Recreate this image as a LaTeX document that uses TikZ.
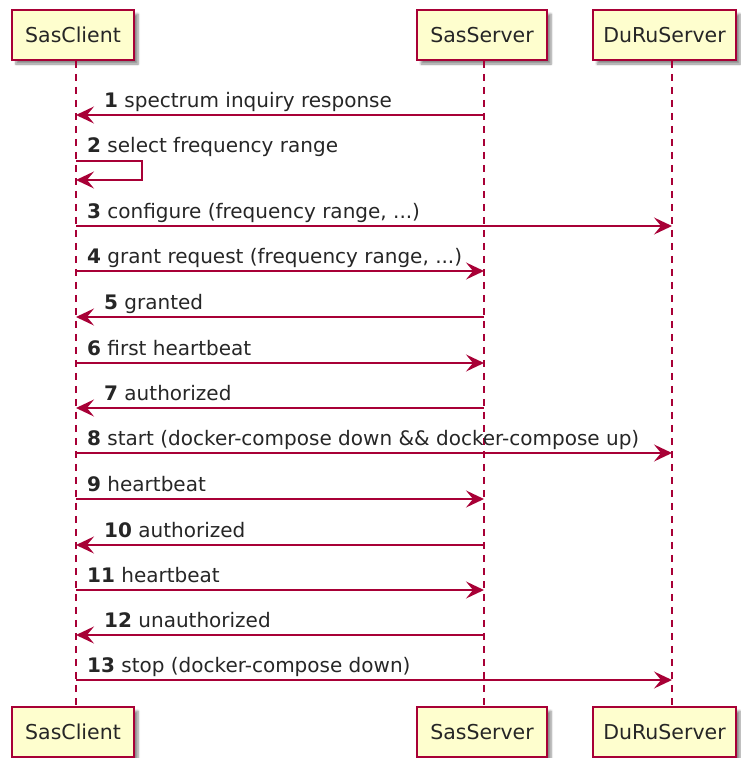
\documentclass[tikz,border=0pt]{standalone}
\usepackage{fontspec}
\setmainfont{DejaVu Sans}
\usetikzlibrary{arrows.meta,shadows.blur}
\definecolor{umlred}{HTML}{A80036}
\definecolor{umlfill}{HTML}{FEFECE}
\begin{document}
\begin{tikzpicture}[x=1pt,y=-1pt,
  actor/.style={draw=umlred, line width=1.5pt, fill=umlfill, minimum height=50pt,
    inner sep=0pt, text=black!85, font=\fontsize{20.5}{24}\selectfont,
    blur shadow={shadow xshift=4pt, shadow yshift=-4pt, shadow blur steps=6, shadow opacity=45}},
  lifeline/.style={draw=umlred, line width=1.3pt, dash pattern=on 7pt off 6pt},
  msg/.style={draw=umlred, line width=1.4pt, -{Stealth[length=18pt,width=17pt,inset=7pt]}},
  lbl/.style={anchor=base west, inner sep=0pt, text=black!85, font=\fontsize{20}{23}\selectfont}]
\useasboundingbox (0,0) rectangle (741,758);

% participants, head and foot
\node[actor, minimum width=122pt] (tc) at (73,35) {SasClient};
\node[actor, minimum width=130pt] (ts) at (482,35) {SasServer};
\node[actor, minimum width=143pt] (td) at (664.5,35) {DuRuServer};
\node[actor, minimum width=122pt] (bc) at (73,732) {SasClient};
\node[actor, minimum width=130pt] (bs) at (482,732) {SasServer};
\node[actor, minimum width=143pt] (bd) at (664.5,732) {DuRuServer};

% lifelines
\coordinate (C) at (76,0);
\coordinate (S) at (484,0);
\coordinate (D) at (672,0);
\draw[lifeline] (C |- tc.south) -- (C |- bc.north);
\draw[lifeline] (S |- ts.south) -- (S |- bs.north);
\draw[lifeline] (D |- td.south) -- (D |- bd.north);

% messages
\draw[msg] (S |- 0,115) -- (C |- 0,115);
\node[lbl] at (104,107) {\textbf{1} spectrum inquiry response};

\draw[msg] (C |- 0,161) -- (142,161) -- (142,180) -- (C |- 0,180);
\node[lbl] at (87,152) {\textbf{2} select frequency range};

\draw[msg] (C |- 0,226) -- (D |- 0,226);
\node[lbl] at (87,218) {\textbf{3} configure (frequency range, ...)};

\draw[msg] (C |- 0,271) -- (S |- 0,271);
\node[lbl] at (87,263) {\textbf{4} grant request (frequency range, ...)};

\draw[msg] (S |- 0,317) -- (C |- 0,317);
\node[lbl] at (104,309) {\textbf{5} granted};

\draw[msg] (C |- 0,363) -- (S |- 0,363);
\node[lbl] at (87,355) {\textbf{6} first heartbeat};

\draw[msg] (S |- 0,408) -- (C |- 0,408);
\node[lbl] at (104,400) {\textbf{7} authorized};

\draw[msg] (C |- 0,453) -- (D |- 0,453);
\node[lbl] at (87,445) {\textbf{8} start (docker-compose down \&\& docker-compose up)};

\draw[msg] (C |- 0,499) -- (S |- 0,499);
\node[lbl] at (87,491) {\textbf{9} heartbeat};

\draw[msg] (S |- 0,545) -- (C |- 0,545);
\node[lbl] at (104,537) {\textbf{10} authorized};

\draw[msg] (C |- 0,590) -- (S |- 0,590);
\node[lbl] at (87,582) {\textbf{11} heartbeat};

\draw[msg] (S |- 0,635) -- (C |- 0,635);
\node[lbl] at (104,627) {\textbf{12} unauthorized};

\draw[msg] (C |- 0,680) -- (D |- 0,680);
\node[lbl] at (87,672) {\textbf{13} stop (docker-compose down)};
\end{tikzpicture}
\end{document}
